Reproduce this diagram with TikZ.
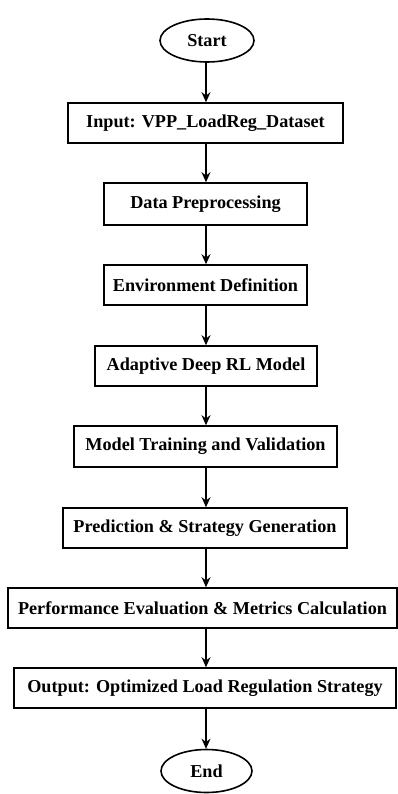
\documentclass[tikz,border=0pt]{standalone}
\usepackage{fontspec}
\setmainfont{Liberation Serif}
\usetikzlibrary{arrows.meta,shapes.geometric}
\begin{document}
\begin{tikzpicture}[x=1pt,y=-1pt,
  every node/.style={font=\fontsize{18.2}{20}\selectfont\bfseries},
  box/.style={draw,line width=1.6pt,rectangle,minimum height=40pt,inner sep=0pt,anchor=center},
  term/.style={draw,line width=1.6pt,ellipse,inner sep=0pt},
  arr/.style={draw,line width=1.6pt,-{Stealth[length=10pt,width=9pt]}}]
\useasboundingbox (0,0) rectangle (398,794);
\coordinate (spine) at (206,0);
\node[term,minimum width=94pt,minimum height=43pt] (start) at (207,40.5) {Start};
\node[box,minimum width=275pt] (input) at (205.5,123) {Input: VPP\_LoadReg\_Dataset};
\node[box,minimum width=203pt,minimum height=42pt] (prep) at (205.5,204) {Data Preprocessing};
\node[box,minimum width=203pt] (env) at (205.5,285) {Environment Definition};
\node[box,minimum width=222pt] (model) at (206,366) {Adaptive Deep RL Model};
\node[box,minimum width=263pt,minimum height=41pt] (train) at (205.5,446.5) {Model Training and Validation};
\node[box,minimum width=284pt] (pred) at (205,528) {Prediction \& Strategy Generation};
\node[box,minimum width=389pt] (perf) at (202.5,608) {Performance Evaluation \& Metrics Calculation};
\node[box,minimum width=382pt] (out) at (205,688) {Output: Optimized Load Regulation Strategy};
\node[term,minimum width=91pt,minimum height=43pt] (end) at (206.5,771) {End};
\draw[arr] (start.south -| spine) -- (input.north -| spine);
\draw[arr] (input.south -| spine) -- (prep.north -| spine);
\draw[arr] (prep.south -| spine) -- (env.north -| spine);
\draw[arr] (env.south -| spine) -- (model.north -| spine);
\draw[arr] (model.south -| spine) -- (train.north -| spine);
\draw[arr] (train.south -| spine) -- (pred.north -| spine);
\draw[arr] (pred.south -| spine) -- (perf.north -| spine);
\draw[arr] (perf.south -| spine) -- (out.north -| spine);
\draw[arr] (out.south -| spine) -- (end.north -| spine);
\end{tikzpicture}
\end{document}
